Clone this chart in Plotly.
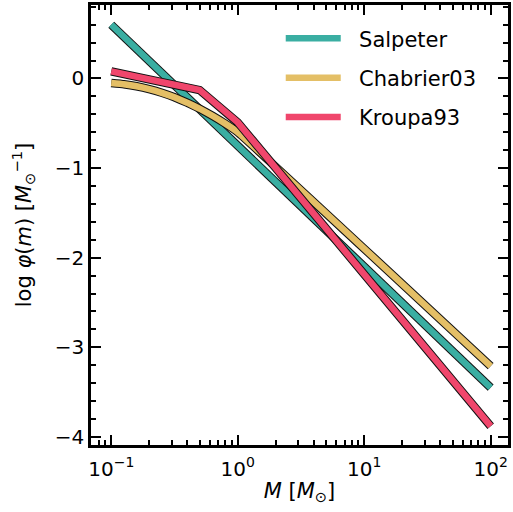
import plotly.graph_objects as go

# ---- data ----
salpeter_m = [0.1, 100.0]
salpeter_y = [0.60, -3.45]

chabrier_m = [0.1, 0.1259, 0.1585, 0.1995, 0.2512, 0.3162, 0.3981, 0.5012, 0.6310, 0.7943, 1.0, 100.0]
chabrier_y = [-0.050, -0.064, -0.087, -0.119, -0.160, -0.210, -0.270, -0.338, -0.416, -0.503, -0.600, -3.21]

kroupa_m = [0.1, 0.5, 1.0, 100.0]
kroupa_y = [0.08, -0.13, -0.49, -3.88]

names = ["Salpeter", "Chabrier03", "Kroupa93"]
colors = ["#3aaea2", "#e4bf66", "#f0466c"]
shapes = ["linear", "spline", "linear"]
series = [(salpeter_m, salpeter_y), (chabrier_m, chabrier_y), (kroupa_m, kroupa_y)]

x_tickvals = [0.1, 1, 10, 100]
x_ticktext = ["10<sup>−1</sup>", "10<sup>0</sup>", "10<sup>1</sup>", "10<sup>2</sup>"]
y_tickvals = [0, -1, -2, -3, -4]
y_ticktext = ["0", "−1", "−2", "−3", "−4"]

fig = go.Figure()
for (m, y), name, c, shp in zip(series, names, colors, shapes):
    fig.add_trace(go.Scatter(x=m, y=y, mode="lines", showlegend=False, hoverinfo="skip",
                             line=dict(color="#111111", width=8.5, shape=shp, smoothing=0.3)))
    fig.add_trace(go.Scatter(x=m, y=y, mode="lines", name="\u00a0\u00a0" + name, legendgroup=name,
                             line=dict(color=c, width=6.5, shape=shp, smoothing=0.3)))

font = "DejaVu Sans, Arial, sans-serif"
fig.update_layout(
    width=513, height=512,
    margin=dict(l=91, r=2, t=5, b=67),
    plot_bgcolor="white", paper_bgcolor="white",
    font=dict(family=font, size=20, color="black"),
    showlegend=True,
    legend=dict(x=0.455, y=0.97, xanchor="left", yanchor="top",
                bgcolor="rgba(0,0,0,0)", font=dict(size=21),
                tracegroupgap=9, itemwidth=55),
    xaxis=dict(type="log", range=[-1.16, 2.137],
               tickvals=x_tickvals, ticktext=x_ticktext,
               ticks="inside", ticklen=10, tickwidth=2, tickcolor="black",
               showline=True, linewidth=2.5, linecolor="black", mirror="allticks",
               showgrid=False, zeroline=False,
               minor=dict(ticks="inside", ticklen=5, tickwidth=1.5, tickcolor="black",
                          dtick="D1", showgrid=False),
               title=dict(text="<i>M</i> [<i>M</i><sub>⊙</sub>]", font=dict(size=21), standoff=4),
               tickfont=dict(size=20), ticklabelstandoff=4),
    yaxis=dict(range=[-4.09, 0.82],
               tickvals=y_tickvals, ticktext=y_ticktext,
               ticks="inside", ticklen=10, tickwidth=2, tickcolor="black",
               showline=True, linewidth=2.5, linecolor="black", mirror="allticks",
               showgrid=False, zeroline=False,
               minor=dict(ticks="inside", ticklen=5, tickwidth=1.5, tickcolor="black",
                          dtick=0.2, showgrid=False),
               title=dict(text="log <i>φ</i>(<i>m</i>) [<i>M</i><sub>⊙</sub><sup>−1</sup>]",
                          font=dict(size=21), standoff=18),
               tickfont=dict(size=20)),
)

fig.write_html("out.html")
